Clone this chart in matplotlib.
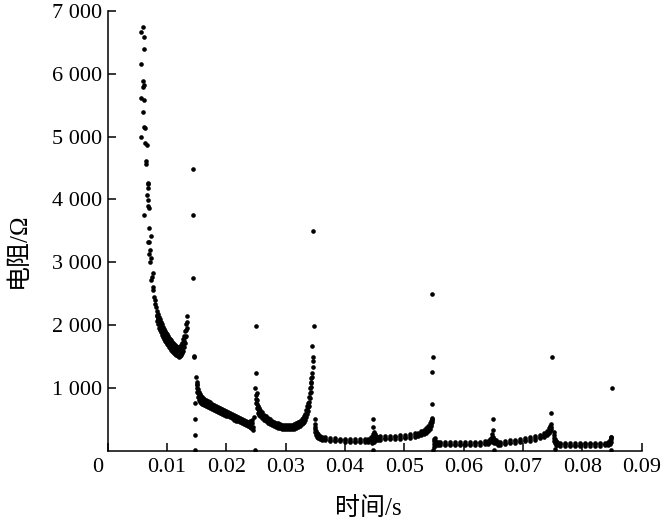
import matplotlib
matplotlib.use("Agg")
import matplotlib.pyplot as plt
import matplotlib.transforms as mtransforms

# ---------------- data ----------------
# isolated / sparse points
sparse_t = [0.00595, 0.00556, 0.00617, 0.00612, 0.00556, 0.00600, 0.00608, 0.00598, 0.00567, 0.00617,
            0.00600, 0.00612, 0.00622, 0.00561, 0.00637, 0.00657, 0.00645, 0.00645, 0.00680, 0.00685,
            0.00685, 0.00668, 0.00680, 0.00675, 0.00697, 0.00618, 0.00690, 0.00725, 0.00680, 0.00700,
            0.00708, 0.00702, 0.00730, 0.00718, 0.00770, 0.00748, 0.00730, 0.00758, 0.00770, 0.00785,
            0.00802, 0.00790, 0.00810, 0.00825, 0.00843,
            0.01443, 0.01432, 0.01443, 0.01460,
            0.01455, 0.01488, 0.01499, 0.01505, 0.01471, 0.01471, 0.01471, 0.01471,
            0.02393, 0.02427, 0.02466, 0.02455, 0.02444, 0.02415, 0.02432,
            0.02494, 0.02500, 0.02483, 0.02511, 0.02483,
            0.03427, 0.03427, 0.03449, 0.03455, 0.03455, 0.03444, 0.03478, 0.03467, 0.03438, 0.03460,
            0.03494, 0.03494, 0.04472, 0.04472, 0.04472, 0.04489, 0.04455,
            0.05471, 0.05477, 0.05466, 0.05471, 0.05471, 0.05488,
            0.06499, 0.06499, 0.06517, 0.05500, 0.05516,
            0.07478, 0.07489,
            0.08500, 0.08483, 0.08483, 0.07539, 0.07522]
sparse_r = [6740, 6660, 6590, 6390, 6160, 5890, 5830, 5790, 5620, 5580,
            5400, 5150, 5130, 5000, 4900, 4870, 4610, 4560, 4260, 4245,
            4175, 4070, 3990, 3895, 3857, 3750, 3540, 3416, 3325, 3320,
            3193, 3130, 3066, 3007, 2832, 2768, 2716, 2610, 2557, 2450,
            2397, 2334, 2281, 2159, 2106,
            4490, 3750, 2748, 1495,
            1506, 1167, 1097, 1040, 753, 498, 248, 10,
            470, 487, 540, 380, 328, 360, 440,
            1989, 1240, 992, 912, 10,
            1071, 1151, 1177, 1336, 1495, 1665, 1988, 3500, 1230, 1420,
            498, 420, 498, 371, 10, 130, 120,
            2493, 1495, 1246, 747, 498, 10,
            498, 328, 10, 60, 200,
            598, 1495,
            997, 221, 10, 30, 300]

# dense band, segment 1 (0.008 - 0.0134 s)
s1_t = [0.00831, 0.00848, 0.00865, 0.00881, 0.00898, 0.00915, 0.00932, 0.00949, 0.00966, 0.00983,
        0.00999, 0.01016, 0.01033, 0.01050, 0.01067, 0.01084, 0.01101, 0.01118, 0.01134, 0.01151,
        0.01168, 0.01185, 0.01202, 0.01219, 0.01235, 0.01252, 0.01269, 0.01286, 0.01303, 0.01320, 0.01337]
s1_mid = [2140, 2090, 2045, 2005, 1968, 1925, 1888, 1855, 1824, 1800, 1777, 1750, 1729, 1705, 1681, 1665,
          1650, 1632, 1617, 1600, 1585, 1575, 1570, 1575, 1600, 1640, 1680, 1740, 1810, 1920, 2045]
s1_hi = [2220, 2170, 2130, 2090, 2050, 2010, 1970, 1935, 1900, 1875, 1850, 1825, 1800, 1780, 1755, 1735,
         1720, 1700, 1685, 1670, 1655, 1645, 1640, 1650, 1680, 1720, 1770, 1830, 1900, 2010, 2140]
s1_lo = [2060, 2010, 1960, 1920, 1885, 1840, 1805, 1775, 1745, 1725, 1700, 1675, 1655, 1630, 1605, 1590,
         1575, 1560, 1545, 1530, 1515, 1500, 1495, 1500, 1520, 1560, 1590, 1650, 1720, 1830, 1950]

# segment 2 (0.015 - 0.024 s)
s2_t = [0.01505, 0.01522, 0.01539, 0.01556, 0.01572, 0.01589, 0.01606, 0.01623, 0.01657, 0.01690,
        0.01724, 0.01758, 0.01792, 0.01825, 0.01859, 0.01893, 0.01927, 0.01960, 0.01994, 0.02028,
        0.02062, 0.02095, 0.02129, 0.02163, 0.02196, 0.02230, 0.02264, 0.02298, 0.02331, 0.02365, 0.02398]
s2_mid = [1000, 917, 870, 837, 815, 805, 790, 775, 758, 742, 726, 708, 690, 672, 660, 646,
          628, 610, 595, 583, 567, 548, 528, 512, 500, 487, 470, 452, 440, 424, 415]
s2_hi = [1060, 980, 930, 895, 870, 860, 845, 825, 805, 790, 770, 750, 730, 712, 700, 685,
         665, 648, 632, 620, 602, 583, 563, 547, 535, 522, 505, 487, 475, 460, 455]
s2_lo = [940, 855, 810, 780, 760, 750, 735, 725, 710, 695, 682, 666, 650, 632, 620, 607,
         591, 572, 558, 546, 532, 513, 493, 477, 465, 452, 435, 417, 405, 388, 375]

# segment 3 (0.025 - 0.0342 s)
s3_t = [0.02499, 0.02516, 0.02533, 0.02550, 0.02567, 0.02601, 0.02634, 0.02668, 0.02702, 0.02736,
        0.02769, 0.02803, 0.02837, 0.02871, 0.02904, 0.02938, 0.02972, 0.03006, 0.03039, 0.03073,
        0.03107, 0.03140, 0.03174, 0.03208, 0.03241, 0.03275, 0.03292, 0.03309, 0.03326, 0.03342,
        0.03359, 0.03376, 0.03393, 0.03410, 0.03422]
s3_mid = [820, 740, 660, 625, 600, 565, 535, 505, 480, 460, 440, 425, 410, 400, 392, 383, 376, 372,
          371, 372, 376, 385, 398, 415, 435, 460, 480, 505, 540, 590, 646, 700, 778, 912, 1017]
s3_hi = [880, 800, 715, 675, 645, 608, 575, 545, 518, 497, 477, 460, 444, 434, 425, 416, 409, 405,
         404, 405, 410, 420, 434, 452, 473, 500, 522, 550, 590, 645, 705, 765, 850, 990, 1100]
s3_lo = [760, 680, 605, 575, 555, 522, 495, 465, 442, 423, 403, 390, 376, 366, 359, 350, 343, 339,
         338, 339, 342, 350, 362, 378, 397, 420, 438, 460, 490, 535, 587, 635, 706, 834, 934]

# segment 4 (0.035 - 0.045 s)
s4_t = [0.03494, 0.03511, 0.03528, 0.03545, 0.03579, 0.03612, 0.03663, 0.03747, 0.03832, 0.03916,
        0.04000, 0.04084, 0.04169, 0.04253, 0.04337, 0.04388, 0.04438, 0.04472, 0.04489, 0.04506]
s4_mid = [340, 280, 250, 232, 210, 200, 190, 177, 172, 169, 165, 161, 160, 161, 163, 169, 190, 230, 264, 220]
s4_hi = [380, 310, 280, 258, 235, 224, 213, 200, 194, 191, 187, 183, 182, 183, 186, 193, 215, 265, 300, 260]
s4_lo = [300, 250, 220, 206, 185, 176, 167, 154, 150, 147, 143, 139, 138, 139, 140, 145, 165, 195, 228, 180]

# segment 5 (0.045 - 0.0547 s)
s5_t = [0.04522, 0.04556, 0.04590, 0.04674, 0.04758, 0.04842, 0.04927, 0.05011, 0.05095, 0.05179,
        0.05230, 0.05281, 0.05331, 0.05365, 0.05399, 0.05433, 0.05450, 0.05466]
s5_mid = [200, 195, 200, 205, 208, 212, 216, 222, 232, 248, 260, 275, 295, 320, 350, 390, 430, 487]
s5_hi = [225, 220, 225, 230, 233, 237, 241, 248, 258, 275, 288, 305, 327, 355, 390, 435, 475, 520]
s5_lo = [175, 170, 175, 180, 183, 187, 191, 196, 206, 221, 232, 245, 263, 285, 310, 345, 385, 450]

# segment 6 (0.055 - 0.065 s)
s6_t = [0.05500, 0.05516, 0.05533, 0.05567, 0.05600, 0.05685, 0.05769, 0.05853, 0.05937, 0.06022,
        0.06106, 0.06190, 0.06275, 0.06359, 0.06409, 0.06443, 0.06477, 0.06494, 0.06511]
s6_mid = [150, 130, 120, 117, 115, 112, 112, 112, 112, 112, 113, 115, 118, 122, 130, 160, 221, 180, 150]
s6_hi = [185, 160, 145, 140, 138, 135, 135, 135, 135, 135, 136, 138, 141, 146, 156, 190, 260, 220, 180]
s6_lo = [110, 100, 95, 94, 92, 89, 89, 89, 89, 89, 90, 92, 95, 98, 104, 130, 180, 140, 120]

# segment 7 (0.065 - 0.0747 s)
s7_t = [0.06545, 0.06578, 0.06612, 0.06697, 0.06781, 0.06865, 0.06949, 0.07034, 0.07118, 0.07202,
        0.07286, 0.07354, 0.07404, 0.07438, 0.07455, 0.07467]
s7_mid = [140, 120, 116, 125, 140, 150, 160, 172, 185, 200, 221, 250, 285, 320, 350, 380]
s7_hi = [165, 145, 140, 150, 165, 175, 185, 197, 210, 226, 248, 280, 318, 355, 390, 420]
s7_lo = [115, 96, 92, 100, 115, 125, 135, 147, 160, 174, 194, 220, 252, 285, 310, 340]

# segment 8 (0.075 - 0.085 s)
s8_t = [0.07522, 0.07539, 0.07556, 0.07573, 0.07623, 0.07708, 0.07792, 0.07876, 0.07960, 0.08045,
        0.08129, 0.08213, 0.08297, 0.08382, 0.08432, 0.08466, 0.08483]
s8_mid = [200, 150, 120, 110, 100, 98, 97, 97, 97, 98, 98, 100, 100, 105, 115, 140, 180]
s8_hi = [250, 185, 148, 135, 123, 121, 120, 120, 120, 121, 121, 123, 123, 128, 140, 170, 220]
s8_lo = [150, 115, 95, 85, 77, 75, 74, 74, 74, 75, 75, 77, 77, 82, 90, 110, 140]

x_ticks = [0, 0.01, 0.02, 0.03, 0.04, 0.05, 0.06, 0.07, 0.08, 0.09]
x_labels = ["0", "0.01", "0.02", "0.03", "0.04", "0.05", "0.06", "0.07", "0.08", "0.09"]
y_ticks = [1000, 2000, 3000, 4000, 5000, 6000, 7000]
y_labels = ["1 000", "2 000", "3 000", "4 000", "5 000", "6 000", "7 000"]
x_title = "时间/s"
y_title = "电阻/Ω"

# ---------------- figure ----------------
fig = plt.figure(figsize=(6.63, 5.26), dpi=100)
ax = fig.add_axes([0.1624, 0.1433, 0.8053, 0.8357])

dot = dict(s=11, c="black", linewidths=0, zorder=3)
ax.scatter(sparse_t, sparse_r, **dot)
bands = [(s1_t, s1_mid, s1_hi, s1_lo), (s2_t, s2_mid, s2_hi, s2_lo), (s3_t, s3_mid, s3_hi, s3_lo),
         (s4_t, s4_mid, s4_hi, s4_lo), (s5_t, s5_mid, s5_hi, s5_lo), (s6_t, s6_mid, s6_hi, s6_lo),
         (s7_t, s7_mid, s7_hi, s7_lo), (s8_t, s8_mid, s8_hi, s8_lo)]
for t, m, h, l in bands:
    ax.scatter(t, m, **dot)
    ax.scatter(t, h, **dot)
    ax.scatter(t, l, **dot)

ax.set_xlim(0, 0.09)
ax.set_ylim(0, 7000)
for side in ("top", "right"):
    ax.spines[side].set_visible(False)
for side in ("left", "bottom"):
    ax.spines[side].set_linewidth(1.1)

serif = ["Liberation Serif", "Noto Sans CJK SC"]
ax.set_xticks(x_ticks)
ax.set_xticklabels(x_labels, family=serif, fontsize=16)
ax.set_yticks(y_ticks)
ax.set_yticklabels(y_labels, family=serif, fontsize=16)
ax.tick_params(axis="both", direction="in", length=6, width=1.1, color="black")
ax.tick_params(axis="x", pad=5)
ax.tick_params(axis="y", pad=4)

# shift the origin "0" label slightly left, as in the reference
lab0 = ax.get_xticklabels()[0]
lab0.set_transform(lab0.get_transform() + mtransforms.ScaledTranslation(-10 / 100, 0, fig.dpi_scale_trans))

ax.set_xlabel(x_title, family=serif, fontsize=18)
ax.xaxis.set_label_coords(0.489, -0.105)
ax.set_ylabel(y_title, family=serif, fontsize=18)
ax.yaxis.set_label_coords(-0.145, 0.455)

fig.savefig("out.png", dpi=100, facecolor="white")
